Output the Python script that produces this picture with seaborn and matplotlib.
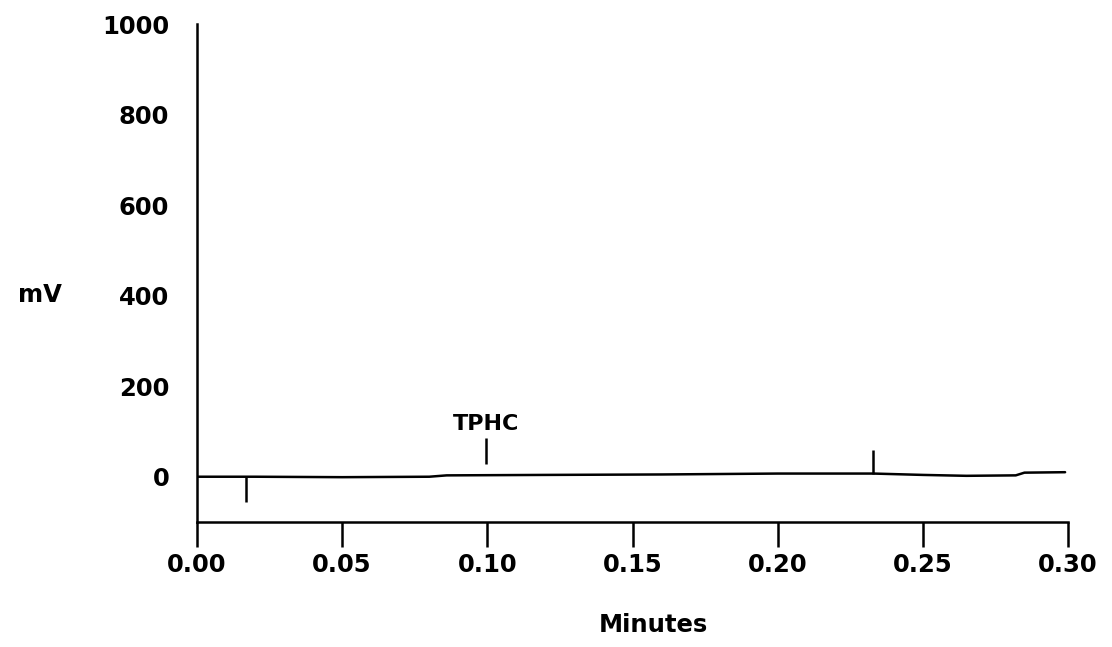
import matplotlib
matplotlib.use("Agg")
import matplotlib.pyplot as plt
import seaborn as sns
import pandas as pd

# Chromatogram trace (minutes, mV)
times = [0.000, 0.020, 0.050, 0.080, 0.086, 0.120, 0.160, 0.200, 0.233, 0.250, 0.265, 0.282, 0.285, 0.299]
millivolts = [0, 0, -1, 0, 3, 4, 5, 7, 7, 4, 2, 3, 9, 10]

# Peak markers
peak_times = [0.017, 0.0995, 0.233]
peak_top = [0, 85, 58]
peak_bottom = [-55, 28, 7]
peak_names = ["", "TPHC", ""]

x_ticks = [0.00, 0.05, 0.10, 0.15, 0.20, 0.25, 0.30]
x_tick_labels = ["0.00", "0.05", "0.10", "0.15", "0.20", "0.25", "0.30"]
y_ticks = [0, 200, 400, 600, 800, 1000]
y_tick_labels = ["0", "200", "400", "600", "800", "1000"]

sns.set_style("white")
plt.rcParams["font.family"] = ["DejaVu Sans"]
plt.rcParams["font.weight"] = "bold"
plt.rcParams["text.color"] = "black"
plt.rcParams["axes.labelcolor"] = "black"
plt.rcParams["xtick.color"] = "black"
plt.rcParams["ytick.color"] = "black"

fig = plt.figure(figsize=(11.12, 6.47), dpi=100)
ax = fig.add_axes([197 / 1112, 1 - 522 / 647, (1068 - 197) / 1112, (522 - 24) / 647])

df = pd.DataFrame({"Minutes": times, "mV": millivolts})
sns.lineplot(data=df, x="Minutes", y="mV", ax=ax, color="black", linewidth=1.8)

ax.vlines(peak_times, peak_bottom, peak_top, color="black", linewidth=1.8)
for t, top, name in zip(peak_times, peak_top, peak_names):
    if name:
        ax.text(t, top + 10, name, ha="center", va="bottom", fontsize=16,
                fontweight="bold", color="black")

ax.set_xlim(0, 0.30)
ax.set_ylim(-100, 1000)
ax.set_xticks(x_ticks)
ax.set_xticklabels(x_tick_labels)
ax.set_yticks(y_ticks)
ax.set_yticklabels(y_tick_labels)

for s in ["top", "right"]:
    ax.spines[s].set_visible(False)
for s in ["left", "bottom"]:
    ax.spines[s].set_color("black")
    ax.spines[s].set_linewidth(1.8)

ax.tick_params(axis="x", direction="out", length=18, width=1.8, color="black",
               labelsize=17.5, pad=4, bottom=True, labelcolor="black")
ax.tick_params(axis="y", length=0, labelsize=17.5, pad=20, left=False, labelcolor="black")
for lbl in ax.get_xticklabels() + ax.get_yticklabels():
    lbl.set_fontweight("bold")

ax.set_xlabel("Minutes", fontsize=17.5, fontweight="bold", color="black", va="center")
ax.xaxis.set_label_coords((653 - 197) / 871, -(625 - 522) / 498)
ax.set_ylabel("mV", fontsize=17.5, fontweight="bold", rotation=0, color="black",
              va="center", ha="center")
ax.yaxis.set_label_coords(-(197 - 40) / 871, (522 - 295) / 498)
ax.grid(False)

fig.savefig("out.png", dpi=100, facecolor="white")
